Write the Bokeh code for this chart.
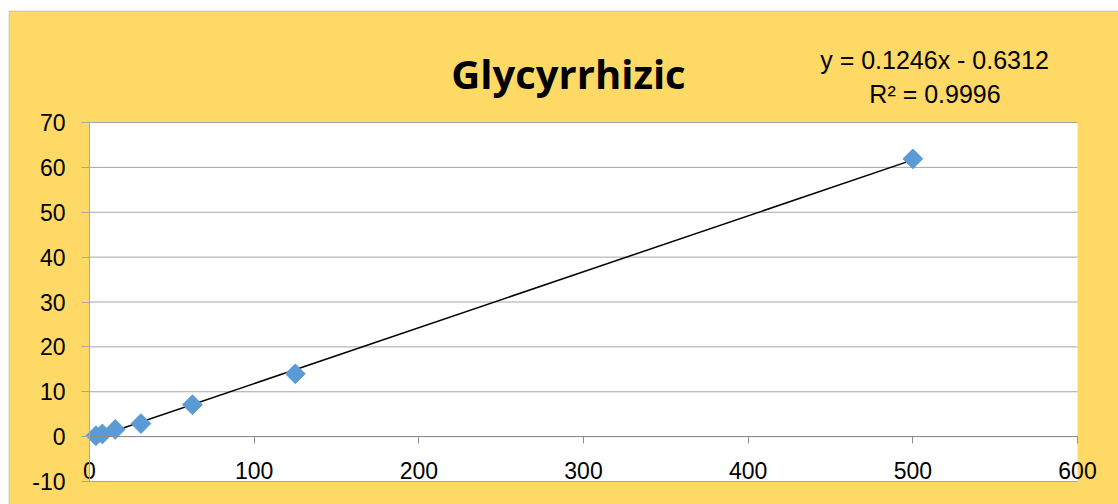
from bokeh.plotting import figure
from bokeh.models import Range1d, Label, FixedTicker, BoxAnnotation
from bokeh.embed import file_html
from bokeh.resources import INLINE
import math

# Data
conc = [3.9, 7.8, 15.6, 31.25, 62.5, 125, 500]
area = [0.2, 0.6, 1.6, 2.9, 7.1, 14.0, 61.9]
slope = 0.1246
intercept = -0.6312
r2 = 0.9996
x_ticks = [0, 100, 200, 300, 400, 500, 600]
y_ticks = [-10, 0, 10, 20, 30, 40, 50, 60, 70]
title_text = "Glycyrrhizic"

BG = "#FFD966"
GRID = "#A6A6A6"

W, H = 1118, 504
# plot-area placement in pixels
PL, PR, PT, PB = 89, 1077, 122, 481
XMIN, XMAX = x_ticks[0], x_ticks[-1]
YMIN, YMAX = y_ticks[0], y_ticks[-1]
sx = (PR - PL) / (XMAX - XMIN)
sy = (PB - PT) / (YMAX - YMIN)


def px_x(px):
    return XMIN + (px - PL) / sx


def px_y(py):
    return YMAX - (py - PT) / sy


p = figure(width=W, height=H, output_backend="svg", toolbar_location=None,
           x_range=Range1d(px_x(0), px_x(W)), y_range=Range1d(px_y(H), px_y(0)),
           min_border=0)
p.background_fill_color = "white"
p.border_fill_color = "white"
p.outline_line_color = None

# chart area (yellow) with thin gray border
p.add_layout(BoxAnnotation(left=px_x(8.5), right=px_x(W + 10), top=px_y(10.5), bottom=px_y(H + 10),
                           fill_color=BG, fill_alpha=1, line_color=GRID, line_width=1.5,
                           level="image"))
# plot area (white)
p.add_layout(BoxAnnotation(left=XMIN, right=XMAX, top=YMAX, bottom=YMIN,
                           fill_color="white", fill_alpha=1, line_color=None,
                           level="image"))

# horizontal gridlines limited to the plot area
p.xgrid.visible = False
p.ygrid.visible = False
p.segment(x0=[XMIN] * len(y_ticks), x1=[XMAX] * len(y_ticks), y0=y_ticks, y1=y_ticks,
          line_color=GRID, line_width=1, level="underlay")

# y axis at x = 0
p.yaxis.fixed_location = XMIN
p.yaxis.bounds = (YMIN, YMAX)
p.yaxis.ticker = FixedTicker(ticks=y_ticks)
p.yaxis.major_label_overrides = {t: str(t) for t in y_ticks}
p.yaxis.axis_line_color = GRID
p.yaxis.major_tick_line_color = GRID
p.yaxis.major_tick_out = 8
p.yaxis.major_tick_in = 0
p.yaxis.minor_tick_line_color = None
p.yaxis.major_label_standoff = 16
p.yaxis.major_label_text_font = "Liberation Sans"
p.yaxis.major_label_text_font_size = "23px"
p.yaxis.major_label_text_color = "black"

# x axis at y = 0
p.xaxis.fixed_location = 0
p.xaxis.bounds = (XMIN, XMAX)
p.xaxis.ticker = FixedTicker(ticks=x_ticks)
p.xaxis.major_label_overrides = {t: str(t) for t in x_ticks}
p.xaxis.axis_line_color = "#8C8C8C"
p.xaxis.major_tick_line_color = "#8C8C8C"
p.xaxis.major_tick_out = 7
p.xaxis.major_tick_in = 0
p.xaxis.minor_tick_line_color = None
p.xaxis.major_label_standoff = 18
p.xaxis.major_label_text_font = "Liberation Sans"
p.xaxis.major_label_text_font_size = "23px"
p.xaxis.major_label_text_color = "black"

# trendline
xs = [min(conc), max(conc)]
ys = [slope * v + intercept for v in xs]
p.line(xs, ys, line_color="black", line_width=1.5)

# points
p.scatter(conc, area, marker="square", size=14, angle=math.pi / 4,
          fill_color="#5B9BD5", line_color="#5B9BD5")

# title and equation
p.add_layout(Label(x=px_x(568), y=px_y(73), text=title_text, text_align="center",
                   text_baseline="alphabetic", text_font="Open Sans", text_font_style="bold",
                   text_font_size="40px", text_color="black"))
p.add_layout(Label(x=px_x(934), y=px_y(59.5), text=f"y = {slope}x - {abs(intercept)}",
                   text_align="center", text_baseline="alphabetic", text_font="Liberation Sans",
                   text_font_size="25px", text_color="black"))
p.add_layout(Label(x=px_x(934.5), y=px_y(93), text=f"R² = {r2}", text_align="center",
                   text_baseline="alphabetic", text_font="Liberation Sans", text_font_size="25px",
                   text_color="black"))

open("out.html", "w").write(file_html(p, INLINE))
